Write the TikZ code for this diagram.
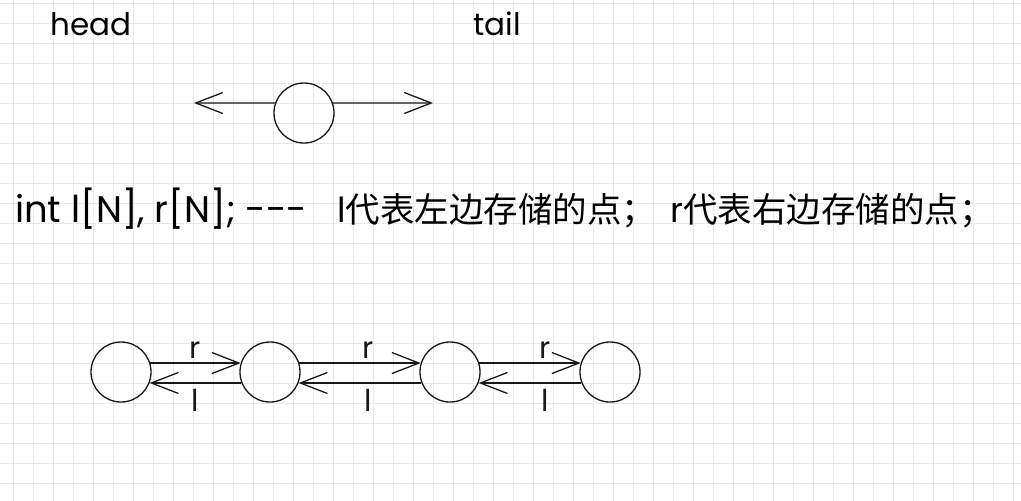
\documentclass[tikz,border=0pt]{standalone}
\usepackage{fontspec}
\setmainfont{Poppins}
\newfontfamily\cjk{Noto Sans CJK SC}
\usetikzlibrary{arrows.meta}
\begin{document}
\begin{tikzpicture}[x=1pt, y=-1pt,
    gridline/.style={draw=black!9, line width=0.8pt},
    elem/.style={draw=black!90, line width=1.3pt, circle, minimum size=60pt, inner sep=0pt},
    arrow/.style={-{Straight Barb[length=27pt,width=21pt]}, line width=1.3pt, color=black!90},
    ptr/.style={font=\fontsize{30}{36}\selectfont, inner sep=0pt},
    tag/.style={font=\fontsize{31}{36}\selectfont, inner sep=0pt, anchor=base west},
    decl/.style={font=\fontsize{34.5}{40}\selectfont, inner sep=0pt, anchor=base west}]

    % paper with grid
    \fill[white] (0,0) rectangle (1021,501);
    \useasboundingbox (0,0) rectangle (1021,501);
    \foreach \x in {13,33,...,1013} \draw[gridline] (\x,0) -- (\x,501);
    \foreach \y in {3,23,...,483} \draw[gridline] (0,\y) -- (1021,\y);

    % one element with its two pointers
    \node (head) [tag] at (50,35) {head};
    \node (tail) [tag] at (473,35) {tail};
    \node (cur) [elem] at (304,113) {};
    \coordinate (lend) at (194,103);
    \coordinate (rend) at (433,103);
    \draw [arrow] (cur.161) -- (lend);
    \draw [arrow] (cur.19) -- (rend);

    % declaration
    \node (arr) [decl, font=\fontsize{37}{42}\selectfont] at (15,222) {int l[N], r[N]; -{}-{}-};
    \node (lnote) [decl] at (337,222) {l\cjk 代表左边存储的点；};
    \node (rnote) [decl] at (670,222) {r\cjk 代表右边存储的点；};

    % the list
    \node (a) [elem] at (121,372) {};
    \node (b) [elem] at (270,372) {};
    \node (c) [elem] at (450,372) {};
    \node (d) [elem] at (610,372) {};

    \draw [arrow] (a.17) -- node[ptr, above=4pt] {r} (b.163);
    \draw [arrow] (b.-159) -- node[ptr, below=6pt] {l} (a.-21);
    \draw [arrow] (b.17) -- node[ptr, above=4pt, pos=0.57] {r} (c.163);
    \draw [arrow] (c.-159) -- node[ptr, below=6pt, pos=0.43] {l} (b.-21);
    \draw [arrow] (c.17) -- node[ptr, above=4pt, pos=0.65] {r} (d.163);
    \draw [arrow] (d.-159) -- node[ptr, below=6pt, pos=0.35] {l} (c.-21);
\end{tikzpicture}
\end{document}
